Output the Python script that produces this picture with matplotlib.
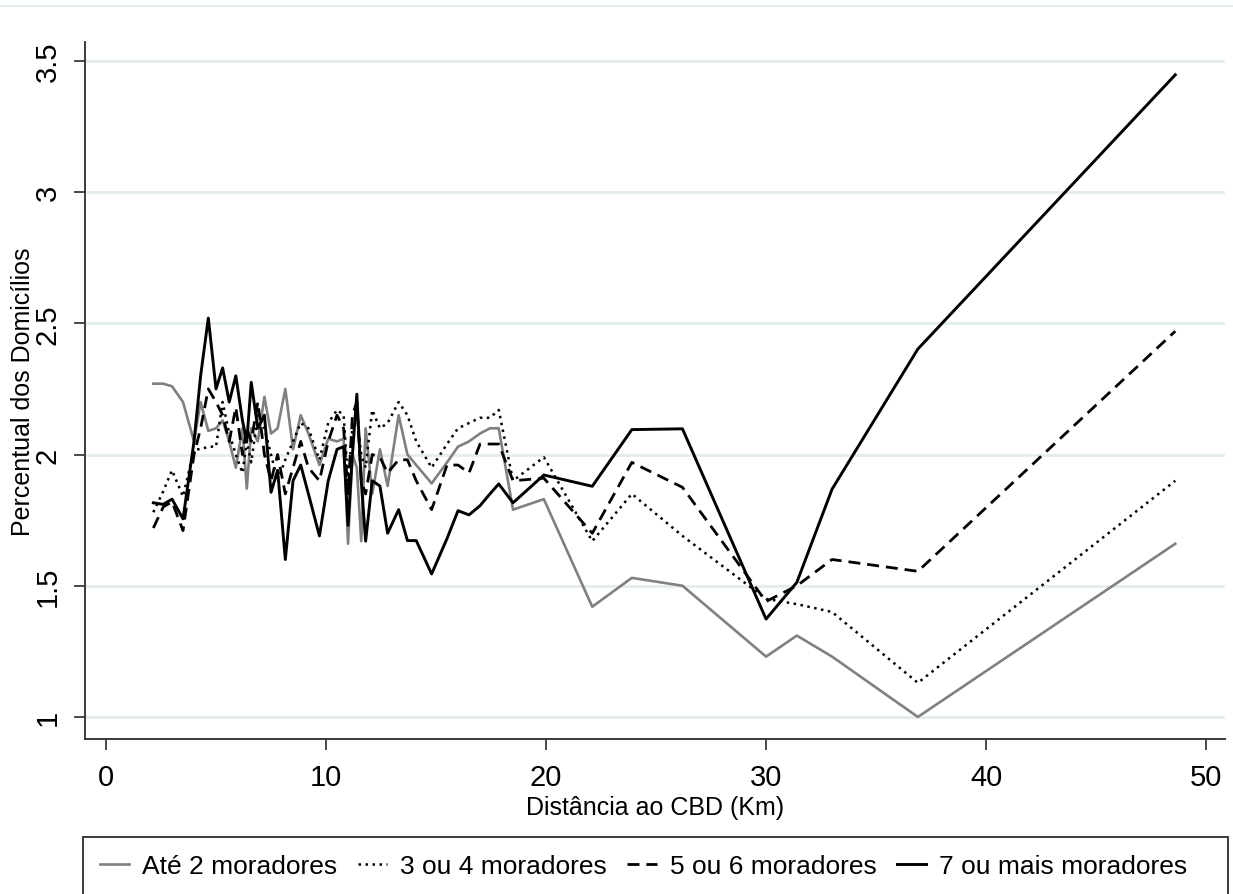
import matplotlib
matplotlib.use("Agg")
import matplotlib.pyplot as plt
from matplotlib.lines import Line2D
from matplotlib.patches import Rectangle
from matplotlib.ticker import FuncFormatter

plt.rcParams['font.family'] = ['Liberation Sans', 'DejaVu Sans']

# distance to CBD (km) for each ring
dist = [2.15, 2.6, 3.0, 3.5, 4.0, 4.3, 4.65, 5.0, 5.3, 5.6, 5.9, 6.2, 6.4, 6.6,
        6.9, 7.2, 7.5, 7.8, 8.15, 8.5, 8.85, 9.2, 9.7, 10.1, 10.5, 10.8, 11.0,
        11.2, 11.4, 11.6, 11.8, 12.1, 12.45, 12.8, 13.3, 13.7, 14.1, 14.8, 15.5,
        16.0, 16.5, 17.0, 17.45, 17.85, 18.5, 19.9, 22.1, 23.9, 26.2, 30.0,
        31.4, 33.0, 36.9, 48.6]

# share of households (%) by household size
ate2 = [2.27, 2.27, 2.26, 2.20, 2.05, 2.20, 2.09, 2.10, 2.13, 2.05, 1.95, 2.10,
        1.87, 2.10, 2.05, 2.22, 2.08, 2.10, 2.25, 2.02, 2.15, 2.08, 1.96, 2.06,
        2.05, 2.06, 1.66, 2.00, 1.95, 1.67, 2.10, 1.85, 2.02, 1.88, 2.15, 2.00,
        1.96, 1.89, 1.97, 2.03, 2.05, 2.08, 2.10, 2.10, 1.79, 1.83, 1.42, 1.53,
        1.50, 1.23, 1.31, 1.23, 1.00, 1.66]
de3a4 = [1.78, 1.86, 1.94, 1.84, 2.02, 2.02, 2.03, 2.03, 2.20, 2.08, 2.00, 1.93,
         2.05, 1.97, 2.15, 2.10, 2.00, 1.90, 1.98, 2.05, 2.12, 2.10, 1.98, 2.12,
         2.17, 2.15, 1.90, 2.10, 2.15, 2.00, 1.95, 2.17, 2.10, 2.12, 2.20, 2.15,
         2.05, 1.95, 2.04, 2.10, 2.12, 2.14, 2.14, 2.17, 1.90, 1.99, 1.67, 1.85,
         1.69, 1.45, 1.43, 1.40, 1.13, 1.90]
de5a6 = [1.72, 1.80, 1.82, 1.71, 2.00, 2.10, 2.25, 2.20, 2.15, 2.05, 2.18, 2.00,
         2.10, 2.05, 2.20, 2.00, 1.90, 2.00, 1.85, 1.95, 2.05, 1.95, 1.90, 2.05,
         2.15, 2.10, 1.85, 2.15, 2.20, 1.90, 1.85, 2.00, 1.99, 1.93, 1.98, 1.98,
         1.90, 1.79, 1.96, 1.96, 1.93, 2.04, 2.04, 2.04, 1.90, 1.91, 1.70, 1.97,
         1.875, 1.44, 1.50, 1.60, 1.555, 2.47]
mais7 = [1.816, 1.81, 1.83, 1.755, 2.05, 2.30, 2.52, 2.25, 2.33, 2.20, 2.30, 2.13,
         2.05, 2.275, 2.10, 2.15, 1.856, 1.94, 1.60, 1.90, 1.96, 1.85, 1.69, 1.90,
         2.02, 2.03, 1.73, 2.00, 2.23, 1.90, 1.67, 1.90, 1.88, 1.70, 1.79, 1.672,
         1.672, 1.545, 1.68, 1.786, 1.77, 1.805, 1.85, 1.888, 1.816, 1.922, 1.879,
         2.095, 2.098, 1.373, 1.513, 1.868, 2.402, 3.447]

labels = ['Até 2 moradores', '3 ou 4 moradores', '5 ou 6 moradores',
          '7 ou mais moradores']
xticks = [0, 10, 20, 30, 40, 50]
yticks = [1, 1.5, 2, 2.5, 3, 3.5]

W, H = 1233, 895
fig = plt.figure(figsize=(W / 100, H / 100), dpi=100)
fig.set_facecolor('white')
ax = fig.add_axes([85 / W, 1 - 740 / H, (1225 - 85) / W, (740 - 43) / H])

styles = [
    dict(color='#808080', lw=1.9),
    dict(color='black', lw=1.8, linestyle=(0, (1, 1.8))),
    dict(color='black', lw=2.0, linestyle=(0, (4.3, 2.5))),
    dict(color='black', lw=2.1),
]
for i, vals in enumerate([ate2, de3a4, de5a6, mais7]):
    ax.plot(dist, vals, zorder=3 + i, **styles[i])

ax.set_xlim(-0.955, 50.86)
ax.set_ylim(0.916, 3.572)
ax.set_xticks(xticks)
ax.set_yticks(yticks)
ax.yaxis.set_major_formatter(FuncFormatter(lambda v, pos: f'{v:g}'))
ax.grid(axis='y', color='#e3edf0', lw=2.0, zorder=0)
ax.set_axisbelow(True)

for s in ['top', 'right']:
    ax.spines[s].set_visible(False)
for s in ['left', 'bottom']:
    ax.spines[s].set_color('#3a3a3a')
    ax.spines[s].set_linewidth(1.4)

ax.tick_params(which='both', direction='out', length=8, width=1.3,
               color='#3a3a3a', labelsize=21, pad=9)
plt.setp(ax.get_yticklabels(), rotation=90, va='center')

ax.set_xlabel('Distância ao CBD (Km)', fontsize=18, labelpad=3)
ax.set_ylabel('Percentual dos Domicílios', fontsize=18)
ax.yaxis.set_label_coords((35 - 85) / 1140, 0.5)

# faint outer border of the graph region
fig.add_artist(Line2D([0, 1], [1 - 7 / H, 1 - 7 / H], color='#e6eef2', lw=1.5))

# legend box spanning the plot width
fig.add_artist(Rectangle((83 / W, -0.02), (1228 - 83) / W, (895 - 838) / H + 0.02,
                         transform=fig.transFigure, fill=False,
                         edgecolor='#3a3a3a', lw=1.4))
handles = [Line2D([], [], **st) for st in styles]
fig.legend(handles, labels, loc='center left', ncol=4,
           bbox_to_anchor=(100 / W, 1 - 867 / H),
           borderaxespad=0, borderpad=0, fontsize=19, handlelength=1.1,
           handletextpad=0.5, columnspacing=0.78, frameon=False)

fig.savefig('out.png', dpi=100)
